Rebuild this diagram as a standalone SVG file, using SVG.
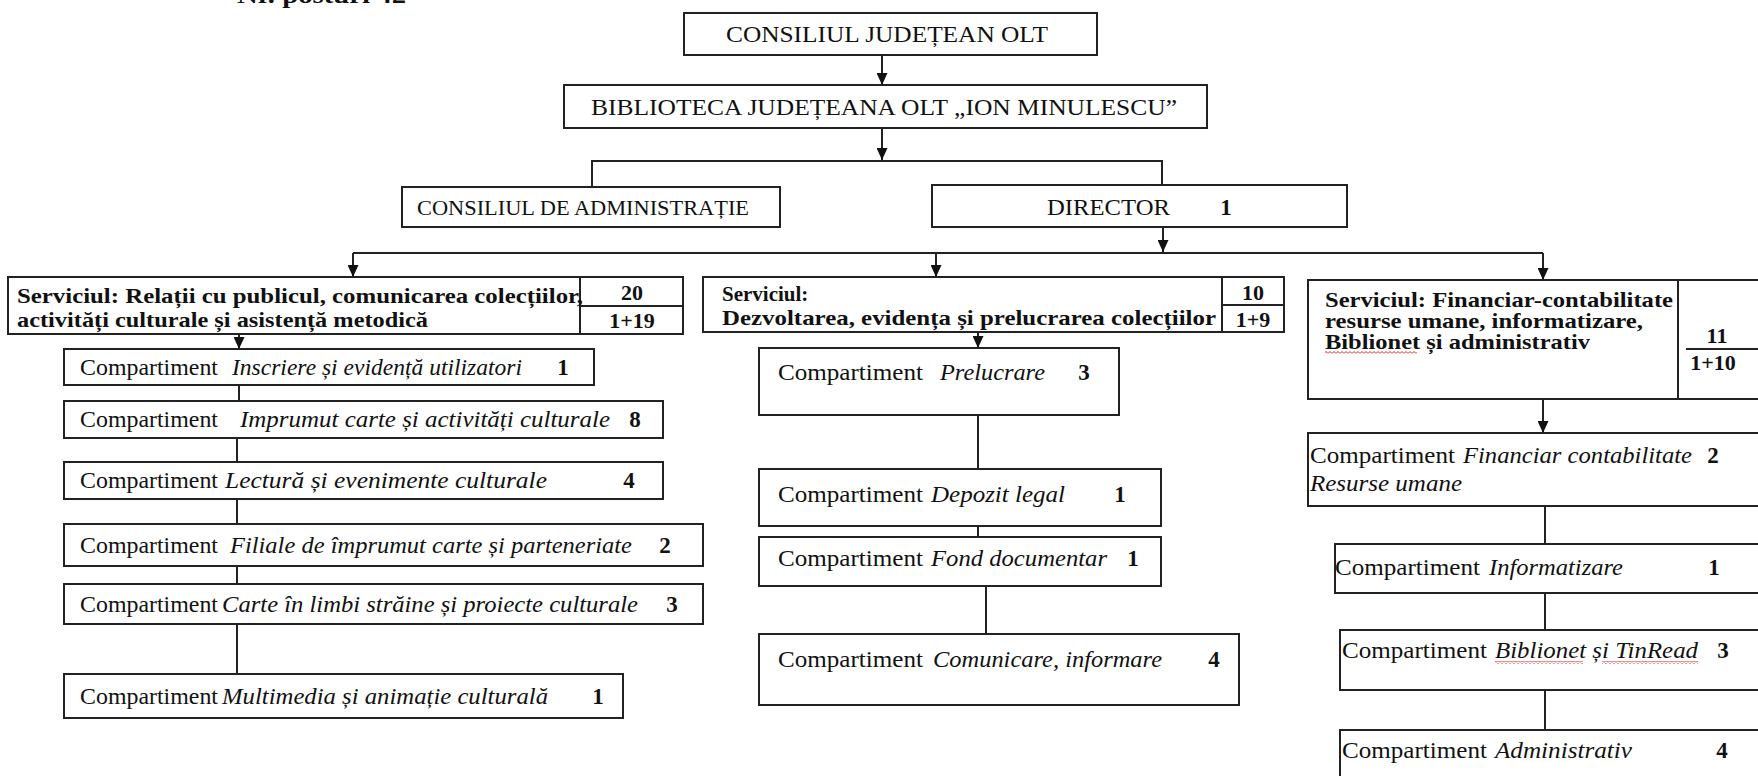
<svg xmlns="http://www.w3.org/2000/svg" width="1758" height="776" viewBox="0 0 1758 776">
<style>
.bx{fill:#fff;stroke:#222;stroke-width:2}
.ln{fill:none;stroke:#222;stroke-width:2}
.t{font-family:"Liberation Serif","Times New Roman",serif;font-size:23px;fill:#111}
.h{font-size:23px}
.s{font-size:21px;font-weight:bold}
.n{font-size:22px;font-weight:bold}
.i{font-style:italic}
.b{font-weight:bold}
.m{text-anchor:middle}
.sq{fill:url(#squig)}
</style>
<defs>
<marker id="ah" markerUnits="userSpaceOnUse" markerWidth="12" markerHeight="11" refX="12" refY="5.5" orient="auto">
<path d="M0,0 L12,5.5 L0,11 z" fill="#111"/>
</marker>
<pattern id="squig" patternUnits="userSpaceOnUse" width="4" height="3">
<path d="M0,2.5 L2,0.5 L4,2.5" fill="none" stroke="#e02020" stroke-width="1"/>
</pattern>
</defs>
<rect width="1758" height="776" fill="#fff"/>
<text class="t b" x="237" y="3" textLength="169" lengthAdjust="spacingAndGlyphs">Nr. posturi 42</text>

<g id="connectors">
<path class="ln" d="M882,55 V85" marker-end="url(#ah)"/>
<path class="ln" d="M882,128 V160" marker-end="url(#ah)"/>
<path class="ln" d="M592,187 V161 H1162 V185"/>
<path class="ln" d="M1163,227 V252" marker-end="url(#ah)"/>
<path class="ln" d="M353,253 H1543"/>
<path class="ln" d="M353,253 V277" marker-end="url(#ah)"/>
<path class="ln" d="M936,253 V277" marker-end="url(#ah)"/>
<path class="ln" d="M1543,253 V280" marker-end="url(#ah)"/>
<path class="ln" d="M239,334 V349" marker-end="url(#ah)"/>
<path class="ln" d="M239,385 V401"/>
<path class="ln" d="M237,438 V462"/>
<path class="ln" d="M237,499 V524"/>
<path class="ln" d="M237,566 V584"/>
<path class="ln" d="M237,624 V674"/>
<path class="ln" d="M978,332 V348" marker-end="url(#ah)"/>
<path class="ln" d="M978,415 V469"/>
<path class="ln" d="M978,526 V537"/>
<path class="ln" d="M986,586 V634"/>
<path class="ln" d="M1543,399 V433" marker-end="url(#ah)"/>
<path class="ln" d="M1545,506 V544"/>
<path class="ln" d="M1545,593 V630"/>
<path class="ln" d="M1545,690 V730"/>
</g>

<g id="consiliul-judetean">
<rect class="bx" x="684" y="13" width="413" height="42"/>
<text class="t h" x="726" y="42" textLength="322" lengthAdjust="spacingAndGlyphs">CONSILIUL JUDEȚEAN OLT</text>
</g>
<g id="biblioteca">
<rect class="bx" x="564" y="85" width="643" height="43"/>
<text class="t h" x="591" y="115" textLength="586" lengthAdjust="spacingAndGlyphs">BIBLIOTECA JUDEȚEANA OLT „ION MINULESCU”</text>
</g>
<g id="consiliul-administratie">
<rect class="bx" x="402" y="187" width="378" height="40"/>
<text class="t" style="font-size:21px" x="417" y="215" textLength="332" lengthAdjust="spacingAndGlyphs">CONSILIUL DE ADMINISTRAȚIE</text>
</g>
<g id="director">
<rect class="bx" x="932" y="185" width="415" height="42"/>
<text class="t h" x="1047" y="215" textLength="123" lengthAdjust="spacingAndGlyphs">DIRECTOR</text>
<text class="t b m" x="1226" y="215">1</text>
</g>

<g id="serviciul-relatii">
<rect class="bx" x="8" y="277" width="675" height="57"/>
<path class="ln" d="M580,277 V334 M580,306 H683"/>
<text class="t s" x="17" y="303" textLength="566" lengthAdjust="spacingAndGlyphs">Serviciul: Relații cu publicul, comunicarea colecțiilor,</text>
<text class="t s" x="17" y="327" textLength="411" lengthAdjust="spacingAndGlyphs">activități culturale și  asistență metodică</text>
<text class="t n m" x="632" y="300">20</text>
<text class="t n m" x="632" y="328">1+19</text>
</g>
<g id="serviciul-dezvoltarea">
<rect class="bx" x="703" y="277" width="581" height="55"/>
<path class="ln" d="M1222,277 V332 M1222,305 H1284"/>
<text class="t s" x="722" y="301">Serviciul:</text>
<text class="t s" x="722" y="325" textLength="494" lengthAdjust="spacingAndGlyphs">Dezvoltarea, evidența și prelucrarea colecțiilor</text>
<text class="t n m" x="1253" y="300">10</text>
<text class="t n m" x="1253" y="327">1+9</text>
</g>
<g id="serviciul-financiar">
<rect class="bx" x="1308" y="280" width="470" height="119"/>
<path class="ln" d="M1678,280 V399 M1686,349 H1778"/>
<text class="t s" x="1325" y="307" textLength="348" lengthAdjust="spacingAndGlyphs">Serviciul: Financiar-contabilitate</text>
<text class="t s" x="1325" y="328" textLength="318" lengthAdjust="spacingAndGlyphs">resurse umane, informatizare,</text>
<text class="t s" x="1325" y="349" textLength="265" lengthAdjust="spacingAndGlyphs">Biblionet și administrativ</text>
<rect class="sq" x="1325" y="351" width="92" height="3"/>
<text class="t n m" x="1717" y="343">11</text>
<text class="t n m" x="1713" y="370">1+10</text>
</g>

<g id="c-inscriere">
<rect class="bx" x="64" y="349" width="530" height="36"/>
<text class="t" x="80" y="375" textLength="138" lengthAdjust="spacingAndGlyphs">Compartiment</text>
<text class="t i" x="232" y="375" textLength="290" lengthAdjust="spacingAndGlyphs">Inscriere și evidență utilizatori</text>
<text class="t b m" x="563" y="375">1</text>
</g>
<g id="c-imprumut">
<rect class="bx" x="64" y="401" width="599" height="37"/>
<text class="t" x="80" y="427" textLength="138" lengthAdjust="spacingAndGlyphs">Compartiment</text>
<text class="t i" x="240" y="427" textLength="370" lengthAdjust="spacingAndGlyphs">Imprumut carte și activități culturale</text>
<text class="t b m" x="635" y="427">8</text>
</g>
<g id="c-lectura">
<rect class="bx" x="64" y="462" width="599" height="37"/>
<text class="t" x="80" y="488" textLength="138" lengthAdjust="spacingAndGlyphs">Compartiment</text>
<text class="t i" x="225" y="488" textLength="322" lengthAdjust="spacingAndGlyphs">Lectură și evenimente culturale</text>
<text class="t b m" x="629" y="488">4</text>
</g>
<g id="c-filiale">
<rect class="bx" x="64" y="524" width="639" height="42"/>
<text class="t" x="80" y="553" textLength="138" lengthAdjust="spacingAndGlyphs">Compartiment</text>
<text class="t i" x="230" y="553" textLength="402" lengthAdjust="spacingAndGlyphs">Filiale de împrumut carte și parteneriate</text>
<text class="t b m" x="665" y="553">2</text>
</g>
<g id="c-carte">
<rect class="bx" x="64" y="584" width="639" height="40"/>
<text class="t" x="80" y="612" textLength="138" lengthAdjust="spacingAndGlyphs">Compartiment</text>
<text class="t i" x="222" y="612" textLength="416" lengthAdjust="spacingAndGlyphs">Carte în limbi străine și proiecte culturale</text>
<text class="t b m" x="672" y="612">3</text>
</g>
<g id="c-multimedia">
<rect class="bx" x="64" y="674" width="559" height="44"/>
<text class="t" x="80" y="704" textLength="138" lengthAdjust="spacingAndGlyphs">Compartiment</text>
<text class="t i" x="222" y="704" textLength="326" lengthAdjust="spacingAndGlyphs">Multimedia și animație culturală</text>
<text class="t b m" x="598" y="704">1</text>
</g>

<g id="c-prelucrare">
<rect class="bx" x="759" y="348" width="360" height="67"/>
<text class="t" x="778" y="380" textLength="145" lengthAdjust="spacingAndGlyphs">Compartiment</text>
<text class="t i" x="940" y="380" textLength="105" lengthAdjust="spacingAndGlyphs">Prelucrare</text>
<text class="t b m" x="1084" y="380">3</text>
</g>
<g id="c-depozit">
<rect class="bx" x="759" y="469" width="402" height="57"/>
<text class="t" x="778" y="502" textLength="145" lengthAdjust="spacingAndGlyphs">Compartiment</text>
<text class="t i" x="931" y="502" textLength="134" lengthAdjust="spacingAndGlyphs">Depozit legal</text>
<text class="t b m" x="1120" y="502">1</text>
</g>
<g id="c-fond">
<rect class="bx" x="759" y="537" width="402" height="49"/>
<text class="t" x="778" y="566" textLength="145" lengthAdjust="spacingAndGlyphs">Compartiment</text>
<text class="t i" x="931" y="566" textLength="176" lengthAdjust="spacingAndGlyphs">Fond documentar</text>
<text class="t b m" x="1133" y="566">1</text>
</g>
<g id="c-comunicare">
<rect class="bx" x="759" y="634" width="480" height="71"/>
<text class="t" x="778" y="667" textLength="145" lengthAdjust="spacingAndGlyphs">Compartiment</text>
<text class="t i" x="933" y="667" textLength="229" lengthAdjust="spacingAndGlyphs">Comunicare, informare</text>
<text class="t b m" x="1214" y="667">4</text>
</g>

<g id="c-financiar">
<rect class="bx" x="1308" y="433" width="470" height="73"/>
<text class="t" x="1310" y="463" textLength="145" lengthAdjust="spacingAndGlyphs">Compartiment</text>
<text class="t i" x="1463" y="463" textLength="229" lengthAdjust="spacingAndGlyphs">Financiar contabilitate</text>
<text class="t b m" x="1713" y="463">2</text>
<text class="t i" x="1310" y="491" textLength="152" lengthAdjust="spacingAndGlyphs">Resurse umane</text>
</g>
<g id="c-informatizare">
<rect class="bx" x="1335" y="544" width="443" height="49"/>
<text class="t" x="1335" y="575" textLength="145" lengthAdjust="spacingAndGlyphs">Compartiment</text>
<text class="t i" x="1489" y="575" textLength="134" lengthAdjust="spacingAndGlyphs">Informatizare</text>
<text class="t b m" x="1714" y="575">1</text>
</g>
<g id="c-biblionet">
<rect class="bx" x="1340" y="630" width="438" height="60"/>
<text class="t" x="1342" y="658" textLength="145" lengthAdjust="spacingAndGlyphs">Compartiment</text>
<text class="t i" x="1495" y="658" textLength="203" lengthAdjust="spacingAndGlyphs">Biblionet și TinRead</text>
<rect class="sq" x="1495" y="661" width="88" height="3"/>
<rect class="sq" x="1602" y="661" width="96" height="3"/>
<text class="t b m" x="1723" y="658">3</text>
</g>
<g id="c-administrativ">
<rect class="bx" x="1340" y="730" width="438" height="60"/>
<text class="t" x="1342" y="758" textLength="145" lengthAdjust="spacingAndGlyphs">Compartiment</text>
<text class="t i" x="1495" y="758" textLength="137" lengthAdjust="spacingAndGlyphs">Administrativ</text>
<text class="t b m" x="1722" y="758">4</text>
</g>
</svg>
